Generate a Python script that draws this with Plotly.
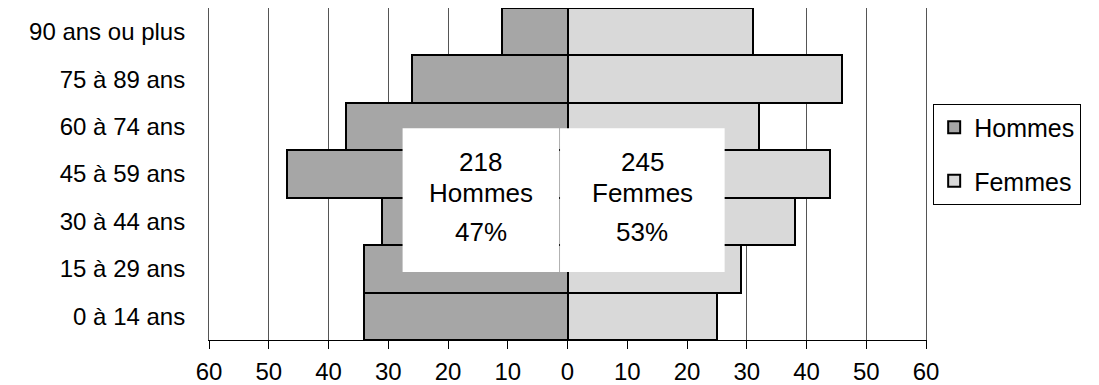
import plotly.graph_objects as go

# Age groups, bottom to top
age_groups = ["0 à 14 ans", "15 à 29 ans", "30 à 44 ans", "45 à 59 ans",
              "60 à 74 ans", "75 à 89 ans", "90 ans ou plus"]
hommes = [34, 34, 31, 47, 37, 26, 11]
femmes = [25, 29, 38, 44, 32, 46, 31]

total_hommes = 218
total_femmes = 245
pct_hommes = "47%"
pct_femmes = "53%"

tick_vals = [-60, -50, -40, -30, -20, -10, 0, 10, 20, 30, 40, 50, 60]
tick_text = [str(abs(v)) for v in tick_vals]

FONT = "Liberation Sans, Arial, sans-serif"
FS = 24

fig = go.Figure()
fig.add_trace(go.Bar(
    y=age_groups, x=[-v for v in hommes], orientation="h", name="Hommes",
    marker=dict(color="#a6a6a6", line=dict(color="black", width=2)),
    legendgroup="h", hoverinfo="skip",
))
fig.add_trace(go.Bar(
    y=age_groups, x=femmes, orientation="h", name="Femmes",
    marker=dict(color="#d9d9d9", line=dict(color="black", width=2)),
    legendgroup="f", hoverinfo="skip",
))

# White summary boxes over the centre of the pyramid
fig.add_shape(type="rect", xref="x", yref="paper", x0=-27.6, x1=-1.4,
              y0=0.205, y1=0.638, fillcolor="white", line_width=0, layer="above")
fig.add_shape(type="rect", xref="x", yref="paper", x0=-1.25, x1=26.3,
              y0=0.205, y1=0.638, fillcolor="white", line_width=0, layer="above")

summary = [
    (-14.5, [str(total_hommes), "Hommes", pct_hommes]),
    (12.5, [str(total_femmes), "Femmes", pct_femmes]),
]
line_y = [0.536, 0.444, 0.326]
for xc, lines in summary:
    for txt, yy in zip(lines, line_y):
        fig.add_annotation(x=xc, y=yy, xref="x", yref="paper", text=txt,
                           xanchor="center", yanchor="middle", showarrow=False,
                           font=dict(family=FONT, size=26, color="black"))

fig.update_layout(
    width=1099, height=385,
    margin=dict(l=209, r=173, t=8, b=45, autoexpand=False),
    paper_bgcolor="white", plot_bgcolor="white",
    barmode="overlay", bargap=0,
    font=dict(family=FONT, size=FS, color="black"),
    legend=dict(x=1.01, y=0.712, xanchor="left", yanchor="top",
                bordercolor="black", borderwidth=1, traceorder="grouped",
                tracegroupgap=18, itemwidth=30,
                font=dict(family=FONT, size=25, color="black")),
)
fig.update_xaxes(
    range=[-60, 60], tickvals=tick_vals, ticktext=tick_text,
    showgrid=True, gridcolor="#555555", gridwidth=1, zeroline=False,
    showline=True, linecolor="black", linewidth=1, automargin=False,
    ticks="outside", ticklen=8, tickcolor="black", ticklabelstandoff=2,
)
fig.update_yaxes(
    range=[-0.5, 6.5], showgrid=False, zeroline=False, automargin=False,
    showline=True, mirror=True, linecolor="#555555", linewidth=1,
    ticks="", ticklabelstandoff=18,
)

fig.write_html("out.html")
